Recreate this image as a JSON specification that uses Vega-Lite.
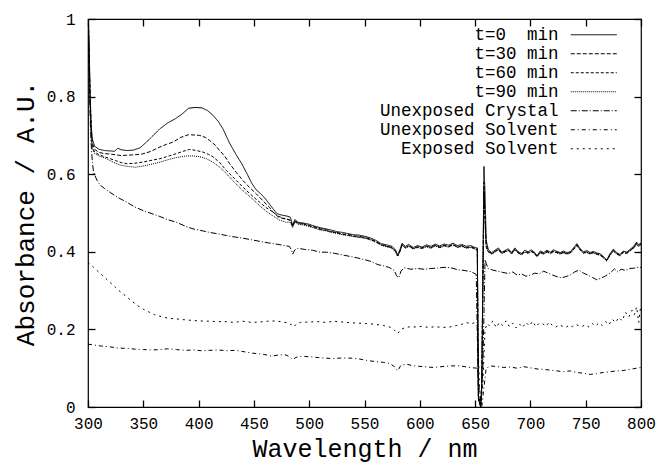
{
"$schema": "https://vega.github.io/schema/vega-lite/v6.json",
"width": 553, "height": 388,
"autosize": {"type": "none"},
"padding": {"left": 88, "top": 19, "right": 17, "bottom": 56},
"background": "white",
"config": {
 "font": "Liberation Mono",
 "view": {"stroke": "#000", "strokeWidth": 1.2},
 "axis": {"domain": false, "grid": false, "ticks": true, "offset": -7, "tickColor": "#000", "tickOpacity": 1, "tickSize": 7, "tickWidth": 1.3, "zindex": 1, "labelFlush": false, "labelColor": "#000", "labelFontSize": 16, "titleFontSize": 26, "titleFontWeight": "normal", "titleColor": "#000", "labelFont": "Liberation Mono", "titleFont": "Liberation Mono"},
 "legend": {"orient": "none", "legendX": 497, "legendY": 7, "padding": 0, "title": null, "symbolType": "M-4.6,0H4.6", "symbolSize": 100, "symbolStrokeWidth": 1, "symbolStrokeColor": "#000", "labelAlign": "right", "labelOffset": -44, "labelLimit": 0, "labelFontSize": 17.5, "labelFont": "Liberation Mono", "labelColor": "#000", "rowPadding": 0}
},
"resolve": {"axis": {"x": "independent", "y": "independent"}},
"layer": [
{
"data": {"values": [
{"series":"t=0\u00a0 min","nm":300,"A":1.05},{"series":"t=0\u00a0 min","nm":301,"A":0.93},{"series":"t=0\u00a0 min","nm":302,"A":0.8},{"series":"t=0\u00a0 min","nm":303,"A":0.72},{"series":"t=0\u00a0 min","nm":304,"A":0.69},{"series":"t=0\u00a0 min","nm":306,"A":0.672},{"series":"t=0\u00a0 min","nm":310,"A":0.664},{"series":"t=0\u00a0 min","nm":315,"A":0.661},{"series":"t=0\u00a0 min","nm":320,"A":0.66},{"series":"t=0\u00a0 min","nm":324,"A":0.659},{"series":"t=0\u00a0 min","nm":327,"A":0.667},{"series":"t=0\u00a0 min","nm":330,"A":0.663},{"series":"t=0\u00a0 min","nm":335,"A":0.661},{"series":"t=0\u00a0 min","nm":341,"A":0.662},{"series":"t=0\u00a0 min","nm":347,"A":0.668},{"series":"t=0\u00a0 min","nm":353,"A":0.683},{"series":"t=0\u00a0 min","nm":359,"A":0.7},{"series":"t=0\u00a0 min","nm":365,"A":0.717},{"series":"t=0\u00a0 min","nm":372,"A":0.732},{"series":"t=0\u00a0 min","nm":379,"A":0.743},{"series":"t=0\u00a0 min","nm":385,"A":0.755},{"series":"t=0\u00a0 min","nm":391,"A":0.77},{"series":"t=0\u00a0 min","nm":397,"A":0.772},{"series":"t=0\u00a0 min","nm":403,"A":0.771},{"series":"t=0\u00a0 min","nm":408,"A":0.764},{"series":"t=0\u00a0 min","nm":413,"A":0.752},{"series":"t=0\u00a0 min","nm":418,"A":0.735},{"series":"t=0\u00a0 min","nm":422,"A":0.717},{"series":"t=0\u00a0 min","nm":428,"A":0.68},{"series":"t=0\u00a0 min","nm":434,"A":0.65},{"series":"t=0\u00a0 min","nm":439,"A":0.627},{"series":"t=0\u00a0 min","nm":444,"A":0.6},{"series":"t=0\u00a0 min","nm":448,"A":0.577},{"series":"t=0\u00a0 min","nm":452,"A":0.56},{"series":"t=0\u00a0 min","nm":456,"A":0.55},{"series":"t=0\u00a0 min","nm":460,"A":0.538},{"series":"t=0\u00a0 min","nm":463,"A":0.527},{"series":"t=0\u00a0 min","nm":467,"A":0.512},{"series":"t=0\u00a0 min","nm":471,"A":0.498},{"series":"t=0\u00a0 min","nm":476,"A":0.494},{"series":"t=0\u00a0 min","nm":480,"A":0.492},{"series":"t=0\u00a0 min","nm":483,"A":0.489},{"series":"t=0\u00a0 min","nm":485,"A":0.468},{"series":"t=0\u00a0 min","nm":487,"A":0.483},{"series":"t=0\u00a0 min","nm":490,"A":0.476},{"series":"t=0\u00a0 min","nm":495,"A":0.474},
{"series":"t=0\u00a0 min","nm":500,"A":0.471},{"series":"t=0\u00a0 min","nm":505,"A":0.466},{"series":"t=0\u00a0 min","nm":510,"A":0.462},{"series":"t=0\u00a0 min","nm":515,"A":0.459},{"series":"t=0\u00a0 min","nm":520,"A":0.456},{"series":"t=0\u00a0 min","nm":525,"A":0.452},{"series":"t=0\u00a0 min","nm":530,"A":0.45},{"series":"t=0\u00a0 min","nm":535,"A":0.447},{"series":"t=0\u00a0 min","nm":540,"A":0.444},{"series":"t=0\u00a0 min","nm":545,"A":0.443},{"series":"t=0\u00a0 min","nm":550,"A":0.44},{"series":"t=0\u00a0 min","nm":555,"A":0.436},{"series":"t=0\u00a0 min","nm":560,"A":0.43},{"series":"t=0\u00a0 min","nm":565,"A":0.421},{"series":"t=0\u00a0 min","nm":570,"A":0.418},{"series":"t=0\u00a0 min","nm":575,"A":0.414},{"series":"t=0\u00a0 min","nm":578,"A":0.405},{"series":"t=0\u00a0 min","nm":580,"A":0.392},{"series":"t=0\u00a0 min","nm":582,"A":0.405},{"series":"t=0\u00a0 min","nm":584,"A":0.422},{"series":"t=0\u00a0 min","nm":587,"A":0.414},{"series":"t=0\u00a0 min","nm":590,"A":0.419},{"series":"t=0\u00a0 min","nm":594,"A":0.411},{"series":"t=0\u00a0 min","nm":598,"A":0.416},{"series":"t=0\u00a0 min","nm":602,"A":0.412},{"series":"t=0\u00a0 min","nm":606,"A":0.418},{"series":"t=0\u00a0 min","nm":610,"A":0.414},{"series":"t=0\u00a0 min","nm":614,"A":0.42},{"series":"t=0\u00a0 min","nm":618,"A":0.415},{"series":"t=0\u00a0 min","nm":622,"A":0.42},{"series":"t=0\u00a0 min","nm":626,"A":0.417},{"series":"t=0\u00a0 min","nm":630,"A":0.422},{"series":"t=0\u00a0 min","nm":634,"A":0.416},{"series":"t=0\u00a0 min","nm":638,"A":0.419},{"series":"t=0\u00a0 min","nm":642,"A":0.414},{"series":"t=0\u00a0 min","nm":646,"A":0.416},{"series":"t=0\u00a0 min","nm":650,"A":0.411},{"series":"t=0\u00a0 min","nm":652,"A":0.41},{"series":"t=0\u00a0 min","nm":653,"A":0.02},{"series":"t=0\u00a0 min","nm":655,"A":0.0},{"series":"t=0\u00a0 min","nm":656,"A":0.05},{"series":"t=0\u00a0 min","nm":658,"A":0.62},{"series":"t=0\u00a0 min","nm":659,"A":0.55},{"series":"t=0\u00a0 min","nm":660,"A":0.43},{"series":"t=0\u00a0 min","nm":662,"A":0.405},{"series":"t=0\u00a0 min","nm":665,"A":0.398},{"series":"t=0\u00a0 min","nm":668,"A":0.404},{"series":"t=0\u00a0 min","nm":671,"A":0.41},{"series":"t=0\u00a0 min","nm":674,"A":0.399},{"series":"t=0\u00a0 min","nm":677,"A":0.403},{"series":"t=0\u00a0 min","nm":680,"A":0.408},{"series":"t=0\u00a0 min","nm":683,"A":0.398},{"series":"t=0\u00a0 min","nm":686,"A":0.41},{"series":"t=0\u00a0 min","nm":689,"A":0.4},{"series":"t=0\u00a0 min","nm":692,"A":0.396},{"series":"t=0\u00a0 min","nm":695,"A":0.404},{"series":"t=0\u00a0 min","nm":698,"A":0.4},{"series":"t=0\u00a0 min","nm":701,"A":0.405},{"series":"t=0\u00a0 min","nm":704,"A":0.398},{"series":"t=0\u00a0 min","nm":706,"A":0.39},{"series":"t=0\u00a0 min","nm":709,"A":0.402},{"series":"t=0\u00a0 min","nm":712,"A":0.398},{"series":"t=0\u00a0 min","nm":715,"A":0.404},{"series":"t=0\u00a0 min","nm":718,"A":0.399},{"series":"t=0\u00a0 min","nm":721,"A":0.405},{"series":"t=0\u00a0 min","nm":724,"A":0.401},{"series":"t=0\u00a0 min","nm":727,"A":0.398},{"series":"t=0\u00a0 min","nm":730,"A":0.402},{"series":"t=0\u00a0 min","nm":733,"A":0.398},{"series":"t=0\u00a0 min","nm":736,"A":0.4},{"series":"t=0\u00a0 min","nm":739,"A":0.41},{"series":"t=0\u00a0 min","nm":742,"A":0.421},{"series":"t=0\u00a0 min","nm":745,"A":0.408},{"series":"t=0\u00a0 min","nm":748,"A":0.4},{"series":"t=0\u00a0 min","nm":751,"A":0.403},{"series":"t=0\u00a0 min","nm":754,"A":0.398},{"series":"t=0\u00a0 min","nm":757,"A":0.401},{"series":"t=0\u00a0 min","nm":760,"A":0.397},{"series":"t=0\u00a0 min","nm":763,"A":0.395},{"series":"t=0\u00a0 min","nm":766,"A":0.388},{"series":"t=0\u00a0 min","nm":769,"A":0.379},{"series":"t=0\u00a0 min","nm":772,"A":0.395},{"series":"t=0\u00a0 min","nm":775,"A":0.407},{"series":"t=0\u00a0 min","nm":778,"A":0.398},{"series":"t=0\u00a0 min","nm":781,"A":0.393},{"series":"t=0\u00a0 min","nm":784,"A":0.402},{"series":"t=0\u00a0 min","nm":787,"A":0.399},{"series":"t=0\u00a0 min","nm":790,"A":0.406},{"series":"t=0\u00a0 min","nm":793,"A":0.413},{"series":"t=0\u00a0 min","nm":796,"A":0.425},{"series":"t=0\u00a0 min","nm":798,"A":0.418},{"series":"t=0\u00a0 min","nm":800,"A":0.424},

{"series":"t=30 min","nm":300,"A":1.05},{"series":"t=30 min","nm":301,"A":0.92},{"series":"t=30 min","nm":302,"A":0.79},{"series":"t=30 min","nm":303,"A":0.71},{"series":"t=30 min","nm":304,"A":0.68},{"series":"t=30 min","nm":306,"A":0.664},{"series":"t=30 min","nm":310,"A":0.656},{"series":"t=30 min","nm":315,"A":0.653},{"series":"t=30 min","nm":320,"A":0.652},{"series":"t=30 min","nm":325,"A":0.65},{"series":"t=30 min","nm":330,"A":0.648},{"series":"t=30 min","nm":335,"A":0.649},{"series":"t=30 min","nm":342,"A":0.65},{"series":"t=30 min","nm":349,"A":0.652},{"series":"t=30 min","nm":356,"A":0.658},{"series":"t=30 min","nm":365,"A":0.67},{"series":"t=30 min","nm":371,"A":0.677},{"series":"t=30 min","nm":377,"A":0.683},{"series":"t=30 min","nm":384,"A":0.695},{"series":"t=30 min","nm":391,"A":0.702},{"series":"t=30 min","nm":396,"A":0.701},{"series":"t=30 min","nm":401,"A":0.7},{"series":"t=30 min","nm":406,"A":0.695},{"series":"t=30 min","nm":410,"A":0.687},{"series":"t=30 min","nm":415,"A":0.675},{"series":"t=30 min","nm":419,"A":0.661},{"series":"t=30 min","nm":424,"A":0.645},{"series":"t=30 min","nm":428,"A":0.627},{"series":"t=30 min","nm":434,"A":0.605},{"series":"t=30 min","nm":440,"A":0.584},{"series":"t=30 min","nm":446,"A":0.566},{"series":"t=30 min","nm":452,"A":0.55},{"series":"t=30 min","nm":458,"A":0.532},{"series":"t=30 min","nm":464,"A":0.515},{"series":"t=30 min","nm":468,"A":0.5},{"series":"t=30 min","nm":472,"A":0.49},{"series":"t=30 min","nm":476,"A":0.486},{"series":"t=30 min","nm":480,"A":0.484},{"series":"t=30 min","nm":483,"A":0.481},{"series":"t=30 min","nm":485,"A":0.465},{"series":"t=30 min","nm":487,"A":0.48},{"series":"t=30 min","nm":490,"A":0.474},{"series":"t=30 min","nm":495,"A":0.472},
{"series":"t=30 min","nm":500,"A":0.468},{"series":"t=30 min","nm":505,"A":0.464},{"series":"t=30 min","nm":510,"A":0.459},{"series":"t=30 min","nm":515,"A":0.457},{"series":"t=30 min","nm":520,"A":0.452},{"series":"t=30 min","nm":525,"A":0.45},{"series":"t=30 min","nm":530,"A":0.446},{"series":"t=30 min","nm":535,"A":0.445},{"series":"t=30 min","nm":540,"A":0.441},{"series":"t=30 min","nm":545,"A":0.44},{"series":"t=30 min","nm":550,"A":0.437},{"series":"t=30 min","nm":555,"A":0.433},{"series":"t=30 min","nm":560,"A":0.427},{"series":"t=30 min","nm":565,"A":0.419},{"series":"t=30 min","nm":570,"A":0.415},{"series":"t=30 min","nm":575,"A":0.411},{"series":"t=30 min","nm":578,"A":0.402},{"series":"t=30 min","nm":580,"A":0.39},{"series":"t=30 min","nm":582,"A":0.402},{"series":"t=30 min","nm":584,"A":0.419},{"series":"t=30 min","nm":587,"A":0.411},{"series":"t=30 min","nm":590,"A":0.416},{"series":"t=30 min","nm":594,"A":0.409},{"series":"t=30 min","nm":598,"A":0.413},{"series":"t=30 min","nm":602,"A":0.41},{"series":"t=30 min","nm":606,"A":0.415},{"series":"t=30 min","nm":610,"A":0.411},{"series":"t=30 min","nm":614,"A":0.417},{"series":"t=30 min","nm":618,"A":0.412},{"series":"t=30 min","nm":622,"A":0.417},{"series":"t=30 min","nm":626,"A":0.414},{"series":"t=30 min","nm":630,"A":0.419},{"series":"t=30 min","nm":634,"A":0.413},{"series":"t=30 min","nm":638,"A":0.416},{"series":"t=30 min","nm":642,"A":0.411},{"series":"t=30 min","nm":646,"A":0.413},{"series":"t=30 min","nm":650,"A":0.409},{"series":"t=30 min","nm":652,"A":0.407},{"series":"t=30 min","nm":653,"A":0.03},{"series":"t=30 min","nm":655,"A":0.005},{"series":"t=30 min","nm":656,"A":0.06},{"series":"t=30 min","nm":658,"A":0.58},{"series":"t=30 min","nm":659,"A":0.5},{"series":"t=30 min","nm":660,"A":0.42},{"series":"t=30 min","nm":662,"A":0.402},{"series":"t=30 min","nm":665,"A":0.396},{"series":"t=30 min","nm":668,"A":0.401},{"series":"t=30 min","nm":671,"A":0.407},{"series":"t=30 min","nm":674,"A":0.397},{"series":"t=30 min","nm":677,"A":0.401},{"series":"t=30 min","nm":680,"A":0.405},{"series":"t=30 min","nm":683,"A":0.396},{"series":"t=30 min","nm":686,"A":0.407},{"series":"t=30 min","nm":689,"A":0.398},{"series":"t=30 min","nm":692,"A":0.394},{"series":"t=30 min","nm":695,"A":0.401},{"series":"t=30 min","nm":698,"A":0.398},{"series":"t=30 min","nm":701,"A":0.402},{"series":"t=30 min","nm":704,"A":0.396},{"series":"t=30 min","nm":706,"A":0.389},{"series":"t=30 min","nm":709,"A":0.399},{"series":"t=30 min","nm":712,"A":0.396},{"series":"t=30 min","nm":715,"A":0.401},{"series":"t=30 min","nm":718,"A":0.397},{"series":"t=30 min","nm":721,"A":0.402},{"series":"t=30 min","nm":724,"A":0.399},{"series":"t=30 min","nm":727,"A":0.396},{"series":"t=30 min","nm":730,"A":0.399},{"series":"t=30 min","nm":733,"A":0.396},{"series":"t=30 min","nm":736,"A":0.398},{"series":"t=30 min","nm":739,"A":0.407},{"series":"t=30 min","nm":742,"A":0.418},{"series":"t=30 min","nm":745,"A":0.406},{"series":"t=30 min","nm":748,"A":0.398},{"series":"t=30 min","nm":751,"A":0.4},{"series":"t=30 min","nm":754,"A":0.396},{"series":"t=30 min","nm":757,"A":0.399},{"series":"t=30 min","nm":760,"A":0.395},{"series":"t=30 min","nm":763,"A":0.393},{"series":"t=30 min","nm":766,"A":0.386},{"series":"t=30 min","nm":769,"A":0.378},{"series":"t=30 min","nm":772,"A":0.393},{"series":"t=30 min","nm":775,"A":0.404},{"series":"t=30 min","nm":778,"A":0.396},{"series":"t=30 min","nm":781,"A":0.391},{"series":"t=30 min","nm":784,"A":0.4},{"series":"t=30 min","nm":787,"A":0.397},{"series":"t=30 min","nm":790,"A":0.404},{"series":"t=30 min","nm":793,"A":0.41},{"series":"t=30 min","nm":796,"A":0.422},{"series":"t=30 min","nm":798,"A":0.416},{"series":"t=30 min","nm":800,"A":0.421},

{"series":"t=60 min","nm":300,"A":1.05},{"series":"t=60 min","nm":301,"A":0.91},{"series":"t=60 min","nm":302,"A":0.78},{"series":"t=60 min","nm":303,"A":0.7},{"series":"t=60 min","nm":304,"A":0.67},{"series":"t=60 min","nm":306,"A":0.657},{"series":"t=60 min","nm":310,"A":0.65},{"series":"t=60 min","nm":315,"A":0.645},{"series":"t=60 min","nm":320,"A":0.64},{"series":"t=60 min","nm":325,"A":0.635},{"series":"t=60 min","nm":330,"A":0.63},{"series":"t=60 min","nm":335,"A":0.627},{"series":"t=60 min","nm":342,"A":0.628},{"series":"t=60 min","nm":349,"A":0.631},{"series":"t=60 min","nm":356,"A":0.635},{"series":"t=60 min","nm":365,"A":0.64},{"series":"t=60 min","nm":372,"A":0.646},{"series":"t=60 min","nm":380,"A":0.653},{"series":"t=60 min","nm":386,"A":0.659},{"series":"t=60 min","nm":392,"A":0.664},{"series":"t=60 min","nm":398,"A":0.661},{"series":"t=60 min","nm":404,"A":0.657},{"series":"t=60 min","nm":409,"A":0.651},{"series":"t=60 min","nm":413,"A":0.645},{"series":"t=60 min","nm":419,"A":0.63},{"series":"t=60 min","nm":425,"A":0.61},{"series":"t=60 min","nm":432,"A":0.59},{"series":"t=60 min","nm":440,"A":0.567},{"series":"t=60 min","nm":447,"A":0.548},{"series":"t=60 min","nm":455,"A":0.528},{"series":"t=60 min","nm":461,"A":0.514},{"series":"t=60 min","nm":467,"A":0.503},{"series":"t=60 min","nm":472,"A":0.492},{"series":"t=60 min","nm":476,"A":0.487},{"series":"t=60 min","nm":480,"A":0.484},{"series":"t=60 min","nm":483,"A":0.481},{"series":"t=60 min","nm":485,"A":0.466},{"series":"t=60 min","nm":487,"A":0.479},{"series":"t=60 min","nm":490,"A":0.473},{"series":"t=60 min","nm":495,"A":0.471},
{"series":"t=60 min","nm":500,"A":0.467},{"series":"t=60 min","nm":505,"A":0.462},{"series":"t=60 min","nm":510,"A":0.458},{"series":"t=60 min","nm":515,"A":0.455},{"series":"t=60 min","nm":520,"A":0.451},{"series":"t=60 min","nm":525,"A":0.449},{"series":"t=60 min","nm":530,"A":0.445},{"series":"t=60 min","nm":535,"A":0.443},{"series":"t=60 min","nm":540,"A":0.44},{"series":"t=60 min","nm":545,"A":0.438},{"series":"t=60 min","nm":550,"A":0.436},{"series":"t=60 min","nm":555,"A":0.432},{"series":"t=60 min","nm":560,"A":0.426},{"series":"t=60 min","nm":565,"A":0.418},{"series":"t=60 min","nm":570,"A":0.414},{"series":"t=60 min","nm":575,"A":0.41},{"series":"t=60 min","nm":578,"A":0.401},{"series":"t=60 min","nm":580,"A":0.389},{"series":"t=60 min","nm":582,"A":0.401},{"series":"t=60 min","nm":584,"A":0.418},{"series":"t=60 min","nm":587,"A":0.41},{"series":"t=60 min","nm":590,"A":0.415},{"series":"t=60 min","nm":594,"A":0.408},{"series":"t=60 min","nm":598,"A":0.412},{"series":"t=60 min","nm":602,"A":0.409},{"series":"t=60 min","nm":606,"A":0.414},{"series":"t=60 min","nm":610,"A":0.41},{"series":"t=60 min","nm":614,"A":0.416},{"series":"t=60 min","nm":618,"A":0.411},{"series":"t=60 min","nm":622,"A":0.416},{"series":"t=60 min","nm":626,"A":0.413},{"series":"t=60 min","nm":630,"A":0.418},{"series":"t=60 min","nm":634,"A":0.412},{"series":"t=60 min","nm":638,"A":0.415},{"series":"t=60 min","nm":642,"A":0.41},{"series":"t=60 min","nm":646,"A":0.412},{"series":"t=60 min","nm":650,"A":0.408},{"series":"t=60 min","nm":652,"A":0.406},{"series":"t=60 min","nm":653,"A":0.025},{"series":"t=60 min","nm":655,"A":0.003},{"series":"t=60 min","nm":656,"A":0.055},{"series":"t=60 min","nm":658,"A":0.56},{"series":"t=60 min","nm":659,"A":0.48},{"series":"t=60 min","nm":660,"A":0.415},{"series":"t=60 min","nm":662,"A":0.4},{"series":"t=60 min","nm":665,"A":0.395},{"series":"t=60 min","nm":668,"A":0.4},{"series":"t=60 min","nm":671,"A":0.406},{"series":"t=60 min","nm":674,"A":0.396},{"series":"t=60 min","nm":677,"A":0.4},{"series":"t=60 min","nm":680,"A":0.404},{"series":"t=60 min","nm":683,"A":0.395},{"series":"t=60 min","nm":686,"A":0.406},{"series":"t=60 min","nm":689,"A":0.397},{"series":"t=60 min","nm":692,"A":0.393},{"series":"t=60 min","nm":695,"A":0.4},{"series":"t=60 min","nm":698,"A":0.397},{"series":"t=60 min","nm":701,"A":0.401},{"series":"t=60 min","nm":704,"A":0.395},{"series":"t=60 min","nm":706,"A":0.388},{"series":"t=60 min","nm":709,"A":0.398},{"series":"t=60 min","nm":712,"A":0.395},{"series":"t=60 min","nm":715,"A":0.4},{"series":"t=60 min","nm":718,"A":0.396},{"series":"t=60 min","nm":721,"A":0.401},{"series":"t=60 min","nm":724,"A":0.398},{"series":"t=60 min","nm":727,"A":0.395},{"series":"t=60 min","nm":730,"A":0.398},{"series":"t=60 min","nm":733,"A":0.395},{"series":"t=60 min","nm":736,"A":0.397},{"series":"t=60 min","nm":739,"A":0.406},{"series":"t=60 min","nm":742,"A":0.417},{"series":"t=60 min","nm":745,"A":0.405},{"series":"t=60 min","nm":748,"A":0.397},{"series":"t=60 min","nm":751,"A":0.399},{"series":"t=60 min","nm":754,"A":0.395},{"series":"t=60 min","nm":757,"A":0.398},{"series":"t=60 min","nm":760,"A":0.394},{"series":"t=60 min","nm":763,"A":0.392},{"series":"t=60 min","nm":766,"A":0.385},{"series":"t=60 min","nm":769,"A":0.377},{"series":"t=60 min","nm":772,"A":0.392},{"series":"t=60 min","nm":775,"A":0.403},{"series":"t=60 min","nm":778,"A":0.395},{"series":"t=60 min","nm":781,"A":0.39},{"series":"t=60 min","nm":784,"A":0.399},{"series":"t=60 min","nm":787,"A":0.396},{"series":"t=60 min","nm":790,"A":0.403},{"series":"t=60 min","nm":793,"A":0.409},{"series":"t=60 min","nm":796,"A":0.42},{"series":"t=60 min","nm":798,"A":0.414},{"series":"t=60 min","nm":800,"A":0.42},

{"series":"t=90 min","nm":300,"A":1.05},{"series":"t=90 min","nm":301,"A":0.9},{"series":"t=90 min","nm":302,"A":0.77},{"series":"t=90 min","nm":303,"A":0.69},{"series":"t=90 min","nm":304,"A":0.665},{"series":"t=90 min","nm":306,"A":0.653},{"series":"t=90 min","nm":310,"A":0.647},{"series":"t=90 min","nm":315,"A":0.642},{"series":"t=90 min","nm":320,"A":0.635},{"series":"t=90 min","nm":325,"A":0.628},{"series":"t=90 min","nm":330,"A":0.623},{"series":"t=90 min","nm":336,"A":0.62},{"series":"t=90 min","nm":343,"A":0.618},{"series":"t=90 min","nm":350,"A":0.621},{"series":"t=90 min","nm":358,"A":0.626},{"series":"t=90 min","nm":365,"A":0.631},{"series":"t=90 min","nm":372,"A":0.637},{"series":"t=90 min","nm":380,"A":0.643},{"series":"t=90 min","nm":389,"A":0.647},{"series":"t=90 min","nm":395,"A":0.647},{"series":"t=90 min","nm":401,"A":0.645},{"series":"t=90 min","nm":407,"A":0.64},{"series":"t=90 min","nm":413,"A":0.631},{"series":"t=90 min","nm":419,"A":0.618},{"series":"t=90 min","nm":425,"A":0.602},{"series":"t=90 min","nm":432,"A":0.58},{"series":"t=90 min","nm":440,"A":0.558},{"series":"t=90 min","nm":448,"A":0.538},{"series":"t=90 min","nm":455,"A":0.519},{"series":"t=90 min","nm":461,"A":0.505},{"series":"t=90 min","nm":467,"A":0.493},{"series":"t=90 min","nm":473,"A":0.482},{"series":"t=90 min","nm":479,"A":0.476},{"series":"t=90 min","nm":483,"A":0.476},{"series":"t=90 min","nm":485,"A":0.462},{"series":"t=90 min","nm":487,"A":0.477},{"series":"t=90 min","nm":490,"A":0.471},{"series":"t=90 min","nm":495,"A":0.469},
{"series":"t=90 min","nm":500,"A":0.465},{"series":"t=90 min","nm":505,"A":0.461},{"series":"t=90 min","nm":510,"A":0.456},{"series":"t=90 min","nm":515,"A":0.454},{"series":"t=90 min","nm":520,"A":0.45},{"series":"t=90 min","nm":525,"A":0.447},{"series":"t=90 min","nm":530,"A":0.444},{"series":"t=90 min","nm":535,"A":0.442},{"series":"t=90 min","nm":540,"A":0.439},{"series":"t=90 min","nm":545,"A":0.437},{"series":"t=90 min","nm":550,"A":0.435},{"series":"t=90 min","nm":555,"A":0.431},{"series":"t=90 min","nm":560,"A":0.425},{"series":"t=90 min","nm":565,"A":0.417},{"series":"t=90 min","nm":570,"A":0.413},{"series":"t=90 min","nm":575,"A":0.409},{"series":"t=90 min","nm":578,"A":0.4},{"series":"t=90 min","nm":580,"A":0.388},{"series":"t=90 min","nm":582,"A":0.4},{"series":"t=90 min","nm":584,"A":0.417},{"series":"t=90 min","nm":587,"A":0.409},{"series":"t=90 min","nm":590,"A":0.414},{"series":"t=90 min","nm":594,"A":0.407},{"series":"t=90 min","nm":598,"A":0.411},{"series":"t=90 min","nm":602,"A":0.408},{"series":"t=90 min","nm":606,"A":0.413},{"series":"t=90 min","nm":610,"A":0.409},{"series":"t=90 min","nm":614,"A":0.415},{"series":"t=90 min","nm":618,"A":0.41},{"series":"t=90 min","nm":622,"A":0.415},{"series":"t=90 min","nm":626,"A":0.412},{"series":"t=90 min","nm":630,"A":0.417},{"series":"t=90 min","nm":634,"A":0.411},{"series":"t=90 min","nm":638,"A":0.414},{"series":"t=90 min","nm":642,"A":0.409},{"series":"t=90 min","nm":646,"A":0.411},{"series":"t=90 min","nm":650,"A":0.407},{"series":"t=90 min","nm":652,"A":0.405},{"series":"t=90 min","nm":653,"A":0.02},{"series":"t=90 min","nm":655,"A":0.002},{"series":"t=90 min","nm":656,"A":0.05},{"series":"t=90 min","nm":658,"A":0.55},{"series":"t=90 min","nm":659,"A":0.47},{"series":"t=90 min","nm":660,"A":0.41},{"series":"t=90 min","nm":662,"A":0.399},{"series":"t=90 min","nm":665,"A":0.394},{"series":"t=90 min","nm":668,"A":0.399},{"series":"t=90 min","nm":671,"A":0.405},{"series":"t=90 min","nm":674,"A":0.395},{"series":"t=90 min","nm":677,"A":0.399},{"series":"t=90 min","nm":680,"A":0.403},{"series":"t=90 min","nm":683,"A":0.394},{"series":"t=90 min","nm":686,"A":0.405},{"series":"t=90 min","nm":689,"A":0.396},{"series":"t=90 min","nm":692,"A":0.392},{"series":"t=90 min","nm":695,"A":0.399},{"series":"t=90 min","nm":698,"A":0.396},{"series":"t=90 min","nm":701,"A":0.4},{"series":"t=90 min","nm":704,"A":0.394},{"series":"t=90 min","nm":706,"A":0.387},{"series":"t=90 min","nm":709,"A":0.397},{"series":"t=90 min","nm":712,"A":0.394},{"series":"t=90 min","nm":715,"A":0.399},{"series":"t=90 min","nm":718,"A":0.395},{"series":"t=90 min","nm":721,"A":0.4},{"series":"t=90 min","nm":724,"A":0.397},{"series":"t=90 min","nm":727,"A":0.394},{"series":"t=90 min","nm":730,"A":0.397},{"series":"t=90 min","nm":733,"A":0.394},{"series":"t=90 min","nm":736,"A":0.396},{"series":"t=90 min","nm":739,"A":0.405},{"series":"t=90 min","nm":742,"A":0.416},{"series":"t=90 min","nm":745,"A":0.404},{"series":"t=90 min","nm":748,"A":0.396},{"series":"t=90 min","nm":751,"A":0.398},{"series":"t=90 min","nm":754,"A":0.394},{"series":"t=90 min","nm":757,"A":0.397},{"series":"t=90 min","nm":760,"A":0.393},{"series":"t=90 min","nm":763,"A":0.391},{"series":"t=90 min","nm":766,"A":0.384},{"series":"t=90 min","nm":769,"A":0.376},{"series":"t=90 min","nm":772,"A":0.391},{"series":"t=90 min","nm":775,"A":0.402},{"series":"t=90 min","nm":778,"A":0.394},{"series":"t=90 min","nm":781,"A":0.389},{"series":"t=90 min","nm":784,"A":0.398},{"series":"t=90 min","nm":787,"A":0.395},{"series":"t=90 min","nm":790,"A":0.402},{"series":"t=90 min","nm":793,"A":0.408},{"series":"t=90 min","nm":796,"A":0.419},{"series":"t=90 min","nm":798,"A":0.413},{"series":"t=90 min","nm":800,"A":0.419},

{"series":"Unexposed Crystal","nm":300,"A":1.02},{"series":"Unexposed Crystal","nm":301,"A":0.88},{"series":"Unexposed Crystal","nm":302,"A":0.74},{"series":"Unexposed Crystal","nm":303,"A":0.67},{"series":"Unexposed Crystal","nm":304,"A":0.63},{"series":"Unexposed Crystal","nm":305,"A":0.605},{"series":"Unexposed Crystal","nm":308,"A":0.585},{"series":"Unexposed Crystal","nm":311,"A":0.572},{"series":"Unexposed Crystal","nm":315,"A":0.563},{"series":"Unexposed Crystal","nm":320,"A":0.553},{"series":"Unexposed Crystal","nm":327,"A":0.54},{"series":"Unexposed Crystal","nm":335,"A":0.528},{"series":"Unexposed Crystal","nm":342,"A":0.516},{"series":"Unexposed Crystal","nm":350,"A":0.506},{"series":"Unexposed Crystal","nm":357,"A":0.499},{"series":"Unexposed Crystal","nm":365,"A":0.491},{"series":"Unexposed Crystal","nm":372,"A":0.483},{"series":"Unexposed Crystal","nm":380,"A":0.476},{"series":"Unexposed Crystal","nm":388,"A":0.466},{"series":"Unexposed Crystal","nm":395,"A":0.459},{"series":"Unexposed Crystal","nm":402,"A":0.455},{"series":"Unexposed Crystal","nm":410,"A":0.45},{"series":"Unexposed Crystal","nm":418,"A":0.446},{"series":"Unexposed Crystal","nm":425,"A":0.442},{"series":"Unexposed Crystal","nm":433,"A":0.438},{"series":"Unexposed Crystal","nm":440,"A":0.435},{"series":"Unexposed Crystal","nm":448,"A":0.431},{"series":"Unexposed Crystal","nm":455,"A":0.427},{"series":"Unexposed Crystal","nm":463,"A":0.423},{"series":"Unexposed Crystal","nm":470,"A":0.42},{"series":"Unexposed Crystal","nm":476,"A":0.417},{"series":"Unexposed Crystal","nm":482,"A":0.414},{"series":"Unexposed Crystal","nm":484,"A":0.405},{"series":"Unexposed Crystal","nm":485,"A":0.394},{"series":"Unexposed Crystal","nm":487,"A":0.405},{"series":"Unexposed Crystal","nm":490,"A":0.409},{"series":"Unexposed Crystal","nm":496,"A":0.406},{"series":"Unexposed Crystal","nm":503,"A":0.404},{"series":"Unexposed Crystal","nm":510,"A":0.399},{"series":"Unexposed Crystal","nm":516,"A":0.399},{"series":"Unexposed Crystal","nm":523,"A":0.396},{"series":"Unexposed Crystal","nm":530,"A":0.392},{"series":"Unexposed Crystal","nm":537,"A":0.388},{"series":"Unexposed Crystal","nm":544,"A":0.384},{"series":"Unexposed Crystal","nm":550,"A":0.38},{"series":"Unexposed Crystal","nm":556,"A":0.375},{"series":"Unexposed Crystal","nm":562,"A":0.367},{"series":"Unexposed Crystal","nm":567,"A":0.364},{"series":"Unexposed Crystal","nm":572,"A":0.36},{"series":"Unexposed Crystal","nm":577,"A":0.352},{"series":"Unexposed Crystal","nm":579,"A":0.338},{"series":"Unexposed Crystal","nm":581,"A":0.333},{"series":"Unexposed Crystal","nm":583,"A":0.35},{"series":"Unexposed Crystal","nm":586,"A":0.359},{"series":"Unexposed Crystal","nm":592,"A":0.355},{"series":"Unexposed Crystal","nm":598,"A":0.357},{"series":"Unexposed Crystal","nm":604,"A":0.355},{"series":"Unexposed Crystal","nm":610,"A":0.357},{"series":"Unexposed Crystal","nm":616,"A":0.358},{"series":"Unexposed Crystal","nm":622,"A":0.36},{"series":"Unexposed Crystal","nm":628,"A":0.359},{"series":"Unexposed Crystal","nm":634,"A":0.354},{"series":"Unexposed Crystal","nm":640,"A":0.352},{"series":"Unexposed Crystal","nm":646,"A":0.349},{"series":"Unexposed Crystal","nm":651,"A":0.342},{"series":"Unexposed Crystal","nm":653,"A":0.03},{"series":"Unexposed Crystal","nm":655,"A":0.0},{"series":"Unexposed Crystal","nm":657,"A":0.1},{"series":"Unexposed Crystal","nm":659,"A":0.38},{"series":"Unexposed Crystal","nm":660,"A":0.37},{"series":"Unexposed Crystal","nm":662,"A":0.356},{"series":"Unexposed Crystal","nm":666,"A":0.353},{"series":"Unexposed Crystal","nm":670,"A":0.35},{"series":"Unexposed Crystal","nm":675,"A":0.347},{"series":"Unexposed Crystal","nm":680,"A":0.344},{"series":"Unexposed Crystal","nm":684,"A":0.348},{"series":"Unexposed Crystal","nm":688,"A":0.34},{"series":"Unexposed Crystal","nm":692,"A":0.343},{"series":"Unexposed Crystal","nm":696,"A":0.337},{"series":"Unexposed Crystal","nm":700,"A":0.34},{"series":"Unexposed Crystal","nm":704,"A":0.345},{"series":"Unexposed Crystal","nm":708,"A":0.343},{"series":"Unexposed Crystal","nm":712,"A":0.35},{"series":"Unexposed Crystal","nm":716,"A":0.345},{"series":"Unexposed Crystal","nm":720,"A":0.34},{"series":"Unexposed Crystal","nm":724,"A":0.336},{"series":"Unexposed Crystal","nm":728,"A":0.333},{"series":"Unexposed Crystal","nm":732,"A":0.336},{"series":"Unexposed Crystal","nm":736,"A":0.34},{"series":"Unexposed Crystal","nm":740,"A":0.348},{"series":"Unexposed Crystal","nm":744,"A":0.353},{"series":"Unexposed Crystal","nm":748,"A":0.345},{"series":"Unexposed Crystal","nm":752,"A":0.34},{"series":"Unexposed Crystal","nm":756,"A":0.334},{"series":"Unexposed Crystal","nm":760,"A":0.328},{"series":"Unexposed Crystal","nm":764,"A":0.332},{"series":"Unexposed Crystal","nm":768,"A":0.338},{"series":"Unexposed Crystal","nm":772,"A":0.345},{"series":"Unexposed Crystal","nm":776,"A":0.356},{"series":"Unexposed Crystal","nm":779,"A":0.348},{"series":"Unexposed Crystal","nm":782,"A":0.355},{"series":"Unexposed Crystal","nm":786,"A":0.352},{"series":"Unexposed Crystal","nm":790,"A":0.357},{"series":"Unexposed Crystal","nm":794,"A":0.358},{"series":"Unexposed Crystal","nm":798,"A":0.36},{"series":"Unexposed Crystal","nm":800,"A":0.36},

{"series":"Unexposed Solvent","nm":300,"A":0.162},{"series":"Unexposed Solvent","nm":305,"A":0.16},{"series":"Unexposed Solvent","nm":312,"A":0.157},{"series":"Unexposed Solvent","nm":320,"A":0.155},{"series":"Unexposed Solvent","nm":327,"A":0.152},{"series":"Unexposed Solvent","nm":335,"A":0.151},{"series":"Unexposed Solvent","nm":343,"A":0.149},{"series":"Unexposed Solvent","nm":350,"A":0.148},{"series":"Unexposed Solvent","nm":358,"A":0.147},{"series":"Unexposed Solvent","nm":365,"A":0.148},{"series":"Unexposed Solvent","nm":372,"A":0.15},{"series":"Unexposed Solvent","nm":380,"A":0.148},{"series":"Unexposed Solvent","nm":388,"A":0.146},{"series":"Unexposed Solvent","nm":395,"A":0.147},{"series":"Unexposed Solvent","nm":403,"A":0.145},{"series":"Unexposed Solvent","nm":410,"A":0.146},{"series":"Unexposed Solvent","nm":418,"A":0.147},{"series":"Unexposed Solvent","nm":425,"A":0.145},{"series":"Unexposed Solvent","nm":433,"A":0.146},{"series":"Unexposed Solvent","nm":440,"A":0.143},{"series":"Unexposed Solvent","nm":448,"A":0.139},{"series":"Unexposed Solvent","nm":455,"A":0.137},{"series":"Unexposed Solvent","nm":460,"A":0.135},{"series":"Unexposed Solvent","nm":466,"A":0.131},{"series":"Unexposed Solvent","nm":472,"A":0.134},{"series":"Unexposed Solvent","nm":478,"A":0.135},{"series":"Unexposed Solvent","nm":482,"A":0.13},{"series":"Unexposed Solvent","nm":485,"A":0.122},{"series":"Unexposed Solvent","nm":488,"A":0.128},{"series":"Unexposed Solvent","nm":494,"A":0.131},{"series":"Unexposed Solvent","nm":502,"A":0.129},{"series":"Unexposed Solvent","nm":510,"A":0.127},{"series":"Unexposed Solvent","nm":520,"A":0.125},{"series":"Unexposed Solvent","nm":528,"A":0.126},{"series":"Unexposed Solvent","nm":537,"A":0.126},{"series":"Unexposed Solvent","nm":545,"A":0.124},{"series":"Unexposed Solvent","nm":552,"A":0.12},{"series":"Unexposed Solvent","nm":560,"A":0.117},{"series":"Unexposed Solvent","nm":567,"A":0.115},{"series":"Unexposed Solvent","nm":573,"A":0.112},{"series":"Unexposed Solvent","nm":577,"A":0.104},{"series":"Unexposed Solvent","nm":580,"A":0.093},{"series":"Unexposed Solvent","nm":583,"A":0.108},{"series":"Unexposed Solvent","nm":588,"A":0.11},{"series":"Unexposed Solvent","nm":595,"A":0.106},{"series":"Unexposed Solvent","nm":603,"A":0.104},{"series":"Unexposed Solvent","nm":612,"A":0.102},{"series":"Unexposed Solvent","nm":620,"A":0.104},{"series":"Unexposed Solvent","nm":628,"A":0.106},{"series":"Unexposed Solvent","nm":636,"A":0.106},{"series":"Unexposed Solvent","nm":643,"A":0.103},{"series":"Unexposed Solvent","nm":648,"A":0.101},{"series":"Unexposed Solvent","nm":652,"A":0.1},{"series":"Unexposed Solvent","nm":654,"A":0.04},{"series":"Unexposed Solvent","nm":656,"A":0.0},{"series":"Unexposed Solvent","nm":658,"A":0.05},{"series":"Unexposed Solvent","nm":660,"A":0.1},{"series":"Unexposed Solvent","nm":664,"A":0.106},{"series":"Unexposed Solvent","nm":670,"A":0.104},{"series":"Unexposed Solvent","nm":676,"A":0.102},{"series":"Unexposed Solvent","nm":682,"A":0.103},{"series":"Unexposed Solvent","nm":688,"A":0.1},{"series":"Unexposed Solvent","nm":694,"A":0.104},{"series":"Unexposed Solvent","nm":700,"A":0.101},{"series":"Unexposed Solvent","nm":706,"A":0.098},{"series":"Unexposed Solvent","nm":712,"A":0.097},{"series":"Unexposed Solvent","nm":718,"A":0.095},{"series":"Unexposed Solvent","nm":724,"A":0.093},{"series":"Unexposed Solvent","nm":730,"A":0.091},{"series":"Unexposed Solvent","nm":736,"A":0.093},{"series":"Unexposed Solvent","nm":742,"A":0.089},{"series":"Unexposed Solvent","nm":748,"A":0.087},{"series":"Unexposed Solvent","nm":754,"A":0.084},{"series":"Unexposed Solvent","nm":760,"A":0.086},{"series":"Unexposed Solvent","nm":766,"A":0.089},{"series":"Unexposed Solvent","nm":772,"A":0.091},{"series":"Unexposed Solvent","nm":778,"A":0.093},{"series":"Unexposed Solvent","nm":784,"A":0.094},{"series":"Unexposed Solvent","nm":790,"A":0.097},{"series":"Unexposed Solvent","nm":796,"A":0.1},{"series":"Unexposed Solvent","nm":800,"A":0.102},

{"series":"Exposed Solvent","nm":300,"A":0.373},{"series":"Exposed Solvent","nm":305,"A":0.36},{"series":"Exposed Solvent","nm":310,"A":0.347},{"series":"Exposed Solvent","nm":315,"A":0.334},{"series":"Exposed Solvent","nm":320,"A":0.321},{"series":"Exposed Solvent","nm":325,"A":0.308},{"series":"Exposed Solvent","nm":330,"A":0.295},{"series":"Exposed Solvent","nm":335,"A":0.284},{"series":"Exposed Solvent","nm":340,"A":0.272},{"series":"Exposed Solvent","nm":345,"A":0.261},{"series":"Exposed Solvent","nm":350,"A":0.252},{"series":"Exposed Solvent","nm":355,"A":0.245},{"series":"Exposed Solvent","nm":360,"A":0.238},{"series":"Exposed Solvent","nm":365,"A":0.234},{"series":"Exposed Solvent","nm":372,"A":0.229},{"series":"Exposed Solvent","nm":380,"A":0.227},{"series":"Exposed Solvent","nm":390,"A":0.224},{"series":"Exposed Solvent","nm":400,"A":0.222},{"series":"Exposed Solvent","nm":410,"A":0.221},{"series":"Exposed Solvent","nm":418,"A":0.22},{"series":"Exposed Solvent","nm":425,"A":0.22},{"series":"Exposed Solvent","nm":432,"A":0.218},{"series":"Exposed Solvent","nm":440,"A":0.221},{"series":"Exposed Solvent","nm":448,"A":0.218},{"series":"Exposed Solvent","nm":455,"A":0.219},{"series":"Exposed Solvent","nm":462,"A":0.221},{"series":"Exposed Solvent","nm":470,"A":0.222},{"series":"Exposed Solvent","nm":476,"A":0.219},{"series":"Exposed Solvent","nm":480,"A":0.217},{"series":"Exposed Solvent","nm":484,"A":0.212},{"series":"Exposed Solvent","nm":486,"A":0.206},{"series":"Exposed Solvent","nm":488,"A":0.213},{"series":"Exposed Solvent","nm":492,"A":0.218},{"series":"Exposed Solvent","nm":500,"A":0.219},{"series":"Exposed Solvent","nm":508,"A":0.22},{"series":"Exposed Solvent","nm":515,"A":0.218},{"series":"Exposed Solvent","nm":522,"A":0.221},{"series":"Exposed Solvent","nm":530,"A":0.219},{"series":"Exposed Solvent","nm":538,"A":0.217},{"series":"Exposed Solvent","nm":545,"A":0.216},{"series":"Exposed Solvent","nm":552,"A":0.215},{"series":"Exposed Solvent","nm":560,"A":0.213},{"series":"Exposed Solvent","nm":567,"A":0.21},{"series":"Exposed Solvent","nm":573,"A":0.206},{"series":"Exposed Solvent","nm":577,"A":0.198},{"series":"Exposed Solvent","nm":580,"A":0.189},{"series":"Exposed Solvent","nm":583,"A":0.2},{"series":"Exposed Solvent","nm":587,"A":0.205},{"series":"Exposed Solvent","nm":592,"A":0.207},{"series":"Exposed Solvent","nm":597,"A":0.206},{"series":"Exposed Solvent","nm":602,"A":0.208},{"series":"Exposed Solvent","nm":608,"A":0.205},{"series":"Exposed Solvent","nm":614,"A":0.207},{"series":"Exposed Solvent","nm":620,"A":0.205},{"series":"Exposed Solvent","nm":627,"A":0.206},{"series":"Exposed Solvent","nm":633,"A":0.21},{"series":"Exposed Solvent","nm":638,"A":0.213},{"series":"Exposed Solvent","nm":642,"A":0.218},{"series":"Exposed Solvent","nm":646,"A":0.214},{"series":"Exposed Solvent","nm":650,"A":0.218},{"series":"Exposed Solvent","nm":652,"A":0.214},{"series":"Exposed Solvent","nm":654,"A":0.05},{"series":"Exposed Solvent","nm":655,"A":0.0},{"series":"Exposed Solvent","nm":657,"A":0.06},{"series":"Exposed Solvent","nm":659,"A":0.2},{"series":"Exposed Solvent","nm":661,"A":0.215},{"series":"Exposed Solvent","nm":663,"A":0.209},{"series":"Exposed Solvent","nm":666,"A":0.222},{"series":"Exposed Solvent","nm":669,"A":0.205},{"series":"Exposed Solvent","nm":672,"A":0.218},{"series":"Exposed Solvent","nm":675,"A":0.21},{"series":"Exposed Solvent","nm":678,"A":0.222},{"series":"Exposed Solvent","nm":681,"A":0.207},{"series":"Exposed Solvent","nm":684,"A":0.216},{"series":"Exposed Solvent","nm":687,"A":0.204},{"series":"Exposed Solvent","nm":690,"A":0.214},{"series":"Exposed Solvent","nm":693,"A":0.205},{"series":"Exposed Solvent","nm":696,"A":0.218},{"series":"Exposed Solvent","nm":699,"A":0.209},{"series":"Exposed Solvent","nm":702,"A":0.221},{"series":"Exposed Solvent","nm":705,"A":0.207},{"series":"Exposed Solvent","nm":708,"A":0.216},{"series":"Exposed Solvent","nm":711,"A":0.215},{"series":"Exposed Solvent","nm":714,"A":0.208},{"series":"Exposed Solvent","nm":717,"A":0.219},{"series":"Exposed Solvent","nm":720,"A":0.21},{"series":"Exposed Solvent","nm":723,"A":0.206},{"series":"Exposed Solvent","nm":726,"A":0.212},{"series":"Exposed Solvent","nm":729,"A":0.208},{"series":"Exposed Solvent","nm":732,"A":0.205},{"series":"Exposed Solvent","nm":735,"A":0.211},{"series":"Exposed Solvent","nm":738,"A":0.207},{"series":"Exposed Solvent","nm":741,"A":0.213},{"series":"Exposed Solvent","nm":744,"A":0.209},{"series":"Exposed Solvent","nm":747,"A":0.208},{"series":"Exposed Solvent","nm":750,"A":0.212},{"series":"Exposed Solvent","nm":753,"A":0.206},{"series":"Exposed Solvent","nm":756,"A":0.215},{"series":"Exposed Solvent","nm":759,"A":0.209},{"series":"Exposed Solvent","nm":762,"A":0.217},{"series":"Exposed Solvent","nm":765,"A":0.21},{"series":"Exposed Solvent","nm":768,"A":0.22},{"series":"Exposed Solvent","nm":771,"A":0.212},{"series":"Exposed Solvent","nm":774,"A":0.226},{"series":"Exposed Solvent","nm":777,"A":0.218},{"series":"Exposed Solvent","nm":780,"A":0.231},{"series":"Exposed Solvent","nm":783,"A":0.222},{"series":"Exposed Solvent","nm":786,"A":0.244},{"series":"Exposed Solvent","nm":789,"A":0.232},{"series":"Exposed Solvent","nm":792,"A":0.25},{"series":"Exposed Solvent","nm":794,"A":0.238},{"series":"Exposed Solvent","nm":796,"A":0.258},{"series":"Exposed Solvent","nm":798,"A":0.218},{"series":"Exposed Solvent","nm":799,"A":0.245},{"series":"Exposed Solvent","nm":800,"A":0.262}
]},
"mark": {"type": "line", "clip": true, "strokeWidth": 1, "color": "#000"},
"encoding": {
 "x": {"field": "nm", "type": "quantitative", "scale": {"domain": [300, 800], "nice": false}, "axis": {"values": [300,350,400,450,500,550,600,650,700,750,800], "title": "Wavelength / nm", "labelPadding": 8, "titlePadding": 5, "titleFontSize": 25}},
 "y": {"field": "A", "type": "quantitative", "scale": {"domain": [0, 1], "nice": false}, "axis": {"values": [0,0.2,0.4,0.6,0.8,1], "format": "~g", "title": "Absorbance / A.U.", "labelPadding": 13, "titlePadding": 8}},
 "strokeDash": {"field": "series", "type": "nominal",
   "scale": {"domain": ["t=0\u00a0 min","t=30 min","t=60 min","t=90 min","Unexposed Crystal","Unexposed Solvent","Exposed Solvent"],
             "range": [[1,0],[4,2],[3,2],[1,1],[6,2,1,2],[4,3,1,3],[2,4]]},
   "legend": {}},
 "order": {"field": "nm", "type": "quantitative"}
}
},
{
"data": {"values": [{"nm": 300, "A": 0}]},
"mark": {"type": "point", "opacity": 0},
"encoding": {
 "x": {"field": "nm", "type": "quantitative", "axis": {"orient": "top", "values": [300,350,400,450,500,550,600,650,700,750,800], "labels": false, "title": null}},
 "y": {"field": "A", "type": "quantitative", "axis": {"orient": "right", "values": [0,0.2,0.4,0.6,0.8,1], "labels": false, "title": null}}
}
}
]
}
